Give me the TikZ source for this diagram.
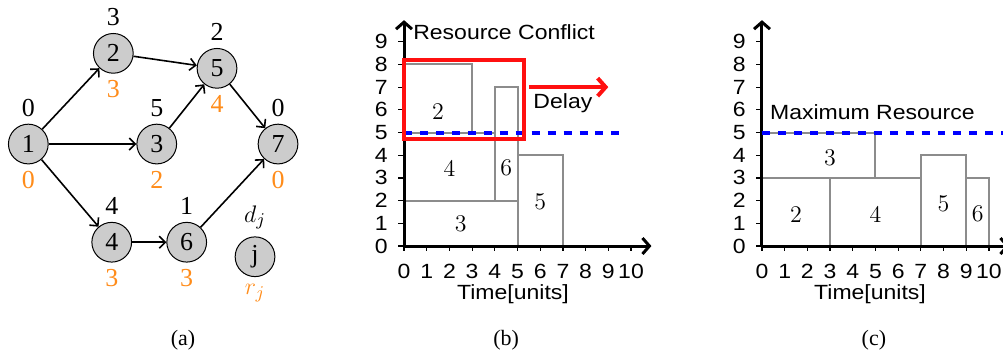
\documentclass[tikz,border=0pt]{standalone}
\usepackage[no-math]{fontspec}
\setmainfont{Liberation Serif}
\setsansfont{Liberation Sans}[FakeStretch=1.12]
\usepackage{tikz}
\usetikzlibrary{arrows.meta}
\definecolor{relorange}{HTML}{FF8C1A}
\definecolor{bargray}{HTML}{8C8C8C}
\definecolor{limitblue}{HTML}{0000FF}
\definecolor{conflictred}{HTML}{FF1010}

\begin{document}
\begin{tikzpicture}[
  job/.style={circle, draw=black, line width=0.5pt, fill=black!20,
              minimum size=0.70cm, inner sep=0pt,
              font=\fontsize{13}{15}\selectfont},
  dlab/.style={font=\fontsize{13}{15}\selectfont},
  rlab/.style={font=\fontsize{13}{15}\selectfont, text=relorange},
  prec/.style={-{Straight Barb[length=3pt,width=6pt]}, line width=0.8pt},
  chartaxis/.style={-{Straight Barb[length=3.5pt,width=8pt]}, line width=1.5pt},
  tickmark/.style={line width=0.6pt},
  ticklab/.style={font=\sffamily\fontsize{10.3}{12}\selectfont, inner sep=0pt},
  sflab/.style={font=\sffamily\fontsize{10.3}{12}\selectfont},
  taskbar/.style={draw=bargray, line width=1pt},
  barlab/.style={font=\fontsize{12}{14}\selectfont},
  maxres/.style={draw=limitblue, line width=2pt, dash pattern=on 4pt off 4pt},
  subcap/.style={font=\fontsize{11}{13}\selectfont}
]
\useasboundingbox (-7.119,-1.956) rectangle (10.555,4.335);

% (a) precedence graph
\begin{scope}[shift={(-6.620,1.797)}]
\node[job, label={[dlab]above:0}, label={[rlab]below:0}] (n1) at (0,0)       {1};
\node[job, label={[dlab]above:3}, label={[rlab]below:3}] (n2) at (1.498,1.598) {2};
\node[job, label={[dlab]above:5}, label={[rlab]below:2}] (n3) at (2.263,0)   {3};
\node[job, label={[dlab]above:2}, label={[rlab]below:4}] (n5) at (3.325,1.334) {5};
\node[job, label={[dlab]above:0}, label={[rlab]below:0}] (n7) at (4.400,0)   {7};
\node[job, label={[dlab]above:4}, label={[rlab]below:3}] (n4) at (1.470,-1.73) {4};
\node[job, label={[dlab]above:1}, label={[rlab]below:3}] (n6) at (2.791,-1.73) {6};
\node[job, label={[dlab]above:$d_j$}, label={[rlab]below:$r_j$}] (nj) at (3.995,-1.986) {j};

\draw[prec] (n1) -- (n2);
\draw[prec] (n1) -- (n3);
\draw[prec] (n1) -- (n4);
\draw[prec] (n2) -- (n5);
\draw[prec] (n3) -- (n5);
\draw[prec] (n5) -- (n7);
\draw[prec] (n4) -- (n6);
\draw[prec] (n6) -- (n7);

\node[subcap] (capa) at (2.726,-3.453) {(a)};
\end{scope}

% (b) resource conflict
\begin{scope}[x=0.4cm, y=0.4cm]
\draw[taskbar] (0,0) rectangle (5,2);
\draw[taskbar] (0,2) rectangle (4,5);
\draw[taskbar] (0,5) rectangle (3,8);
\draw[taskbar] (4,2) rectangle (5,7);
\draw[taskbar] (5,0) rectangle (7,4);
\node[barlab] (b3) at (2.5,0.97) {$3$};
\node[barlab] (b4) at (2.0,3.40) {$4$};
\node[barlab] (b2) at (1.5,5.90) {$2$};
\node[barlab] (b6) at (4.5,3.43) {$6$};
\node[barlab] (b5) at (6.0,1.93) {$5$};

\foreach \i in {0,...,10} {
  \draw[tickmark] (\i,0) -- (\i,-0.22);
  \node[ticklab] (bx\i) at (\i,-1.13) {\i};
}
\foreach \j in {0,...,9} {
  \draw[tickmark] (0,\j) -- (-0.25,\j);
  \node[ticklab] (by\j) at (-1.0,\j) {\j};
}
\draw[chartaxis] (0,0) -- (10.9,0);
\draw[chartaxis] (0,0) -- (0,9.95);

\draw[maxres] (0,5) -- (9.5,5);
\draw[conflictred, line width=2pt] (0,4.70) rectangle (5.30,8.19);
\draw[conflictred, line width=2pt, -{Straight Barb[length=4pt,width=9pt]}] (5.5,7) -- (9.0,7);
\node[sflab] (delay) at (7.0,6.3) {Delay};
\node[sflab, anchor=west] (conflict) at (0.1,9.43) {Resource Conflict};
\node[sflab] (btime) at (4.8,-2.1) {Time[units]};
\node[subcap] (capb) at (4.5,-4.14) {(b)};
\end{scope}

% (c) levelled schedule
\begin{scope}[xshift=6.308cm, x=0.4cm, y=0.4cm]
\draw[taskbar] (0,0) rectangle (3,3);
\draw[taskbar] (3,0) rectangle (7,3);
\draw[taskbar] (0,3) rectangle (5,5);
\draw[taskbar] (7,0) rectangle (9,4);
\draw[taskbar] (9,0) rectangle (10,3);
\node[barlab] (c2) at (1.5,1.37) {$2$};
\node[barlab] (c4) at (5.0,1.37) {$4$};
\node[barlab] (c3) at (3.0,3.90) {$3$};
\node[barlab] (c5) at (8.0,1.88) {$5$};
\node[barlab] (c6) at (9.5,1.40) {$6$};

\foreach \i in {0,...,10} {
  \draw[tickmark] (\i,0) -- (\i,-0.22);
  \node[ticklab] (cx\i) at (\i,-1.13) {\i};
}
\foreach \j in {0,...,9} {
  \draw[tickmark] (0,\j) -- (-0.25,\j);
  \node[ticklab] (cy\j) at (-1.0,\j) {\j};
}
\draw[chartaxis] (0,0) -- (10.9,0);
\draw[chartaxis] (0,0) -- (0,9.95);

\draw[maxres] (0,5) -- (11,5);
\node[sflab, anchor=west] (maxlab) at (0.05,5.9) {Maximum Resource};
\node[sflab] (ctime) at (4.76,-2.1) {Time[units]};
\node[subcap] (capc) at (4.93,-4.14) {(c)};
\end{scope}
\end{tikzpicture}
\end{document}
